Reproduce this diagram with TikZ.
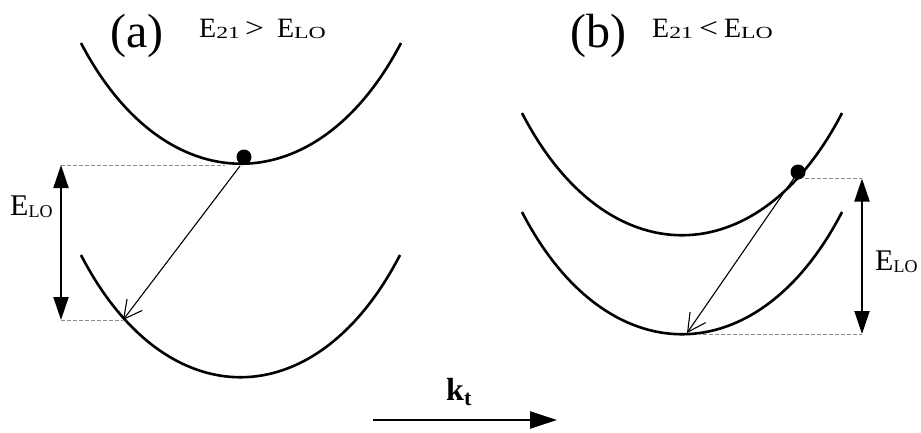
\documentclass[tikz,border=0pt]{standalone}
\usepackage{fontspec}
\setmainfont{Liberation Serif}
\usepackage{graphicx}
\usetikzlibrary{arrows.meta}
\newcommand{\fsz}[1]{\fontsize{#1}{#1}\selectfont}
\newcommand{\tsub}[1]{\raisebox{-1pt}{\scalebox{1.4}[1]{\fsz{17}#1}}}
\begin{document}
\begin{tikzpicture}[x=1pt,y=-1pt,
  band/.style={line width=2.6pt},
  guide/.style={dash pattern=on 4pt off 2pt, line width=0.9pt, color=black!45},
  hop/.style={line width=1.1pt, -{Straight Barb[length=18pt,width=19pt]}},
  gap/.style={line width=2pt, {Triangle[length=23pt,width=15pt]}-{Triangle[length=23pt,width=15pt]}},
  electron/.style={circle, fill=black, inner sep=0pt, minimum size=15pt},
  txt/.style={anchor=base west, inner sep=0pt}]
\useasboundingbox (0,0) rectangle (921,432);
\fill[white] (0,0) rectangle (921,432);

% ---------- panel (a) ----------
\node[txt, font=\fsz{48}] (labA) at (110.5,47.5) {(a)};
\node[txt, font=\fsz{28}] (titA) at (199,37.5) {E\tsub{21}\hspace{5pt}\scalebox{1.2}[1]{>}\hspace{13pt}E\tsub{LO}};

\draw[band] (81,43) .. controls (165,204) and (317,204) .. (401,43);
\draw[band] (81,255) .. controls (165,418) and (316,418) .. (400,255);

\coordinate (a1) at (61,165);
\coordinate (a2) at (61,320);
\coordinate (a1r) at (225,165);
\coordinate (aend) at (123,320);
\coordinate (astart) at (240,166);
\draw[guide] (a1) -- (a1r);
\draw[guide] (a2) -- (aend);
\draw[gap] (a1) -- (a2);
\node[electron] (dotA) at (244,157) {};
\draw[hop] (astart) -- (aend);
\node[txt, font=\fsz{30}] (eloA) at (10,215) {E\raisebox{-2pt}{\fsz{18}LO}};

% ---------- panel (b) ----------
\node[txt, font=\fsz{48}] (labB) at (570.5,47.5) {(b)};
\node[txt, font=\fsz{28}] (titB) at (652,37.5) {E\tsub{21}\hspace{6pt}\scalebox{1.2}[1]{<}\hspace{6pt}E\tsub{LO}};

\draw[band] (522,113) .. controls (606,276) and (758,276) .. (842,113);
\draw[band] (522,212) .. controls (606,375) and (758,375) .. (842,212);

\coordinate (b1) at (862,178.5);
\coordinate (b2) at (862,334);
\coordinate (b1l) at (805,178.5);
\coordinate (b2l) at (697,334);
\coordinate (bstart) at (794,178);
\coordinate (bend) at (687,333);
\draw[guide] (b1l) -- (b1);
\draw[guide] (b2l) -- (b2);
\draw[gap] (b1) -- (b2);
\node[electron] (dotB) at (798,172) {};
\draw[hop] (bstart) -- (bend);
\node[txt, font=\fsz{30}] (eloB) at (875,270) {E\raisebox{-2pt}{\fsz{18}LO}};

% ---------- k_t axis ----------
\coordinate (k0) at (373,420);
\coordinate (k1) at (557,420);
\draw[line width=2.5pt, -{Triangle[length=27pt,width=17pt]}] (k0) -- (k1);
\node[txt, font=\fsz{32}\bfseries] (kt) at (446,400) {k\raisebox{-5pt}{\fsz{22}\bfseries t}};
\end{tikzpicture}
\end{document}
